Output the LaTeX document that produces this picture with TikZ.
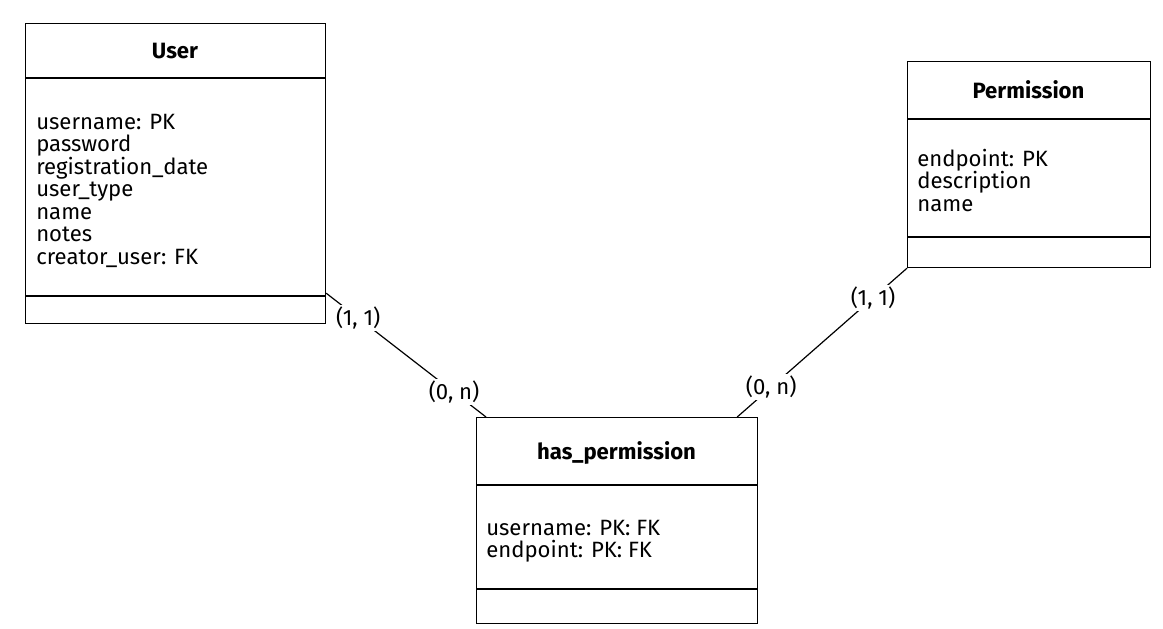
\documentclass[tikz,border=0pt]{standalone}
\usepackage{fontspec}
\setmainfont{Fira Sans}
\usetikzlibrary{calc}
\begin{document}
\begin{tikzpicture}[x=0.75pt,y=-0.75pt,
  txt/.style={font=\fontsize{16.6pt}{16.9pt}\selectfont},
  box/.style={draw, line width=0.9pt, rectangle, inner sep=0, anchor=north west},
  title/.style={font=\fontsize{16.6pt}{16.9pt}\selectfont\bfseries, anchor=base, inner sep=0},
  attrs/.style={txt, align=left, anchor=north west, inner sep=0},
  card/.style={txt, fill=white, inner sep=1.5pt},
  link/.style={line width=0.9pt},
  divider/.style={line width=0.9pt}]
\useasboundingbox (0,0) rectangle (1163,628);

% User
\node[box, minimum width={300*0.75pt}, minimum height={300*0.75pt}] (user) at (25,23) {};
\draw[divider] ($(user.north west)+(0,55)$) -- ($(user.north east)+(0,55)$);
\draw[divider] ($(user.north west)+(0,273)$) -- ($(user.north east)+(0,273)$);
\node[title] (usert) at (175,58) {User};
\node[attrs] (usera) at (36,113.5) {username: PK\\password\\registration\_date\\user\_type\\name\\notes\\creator\_user: FK};

% Permission
\node[box, minimum width={243*0.75pt}, minimum height={206*0.75pt}] (perm) at (907,61) {};
\draw[divider] ($(perm.north west)+(0,58)$) -- ($(perm.north east)+(0,58)$);
\draw[divider] ($(perm.north west)+(0,176)$) -- ($(perm.north east)+(0,176)$);
\node[title] (permt) at (1028.5,98) {Permission};
\node[attrs] (perma) at (917,148.5) {endpoint: PK\\description\\name};

% has_permission
\node[box, minimum width={281*0.75pt}, minimum height={206*0.75pt}] (hasp) at (476,417) {};
\draw[divider] ($(hasp.north west)+(0,68)$) -- ($(hasp.north east)+(0,68)$);
\draw[divider] ($(hasp.north west)+(0,172)$) -- ($(hasp.north east)+(0,172)$);
\node[title] (haspt) at (616.5,459) {has\_permission};
\node[attrs] (haspa) at (486,519.5) {username: PK: FK\\endpoint: PK: FK};

% connectors
\draw[link] ($(user.south east)+(0,-31)$) -- node[card, pos=0.2] (c1) {(1, 1)} node[card, pos=0.8] (c2) {(0, n)} ($(hasp.north west)+(10,0)$);
\draw[link] (perm.south west) -- node[card, pos=0.2] (c3) {(1, 1)} node[card, pos=0.8] (c4) {(0, n)} ($(hasp.north east)+(-21,0)$);
\end{tikzpicture}
\end{document}
